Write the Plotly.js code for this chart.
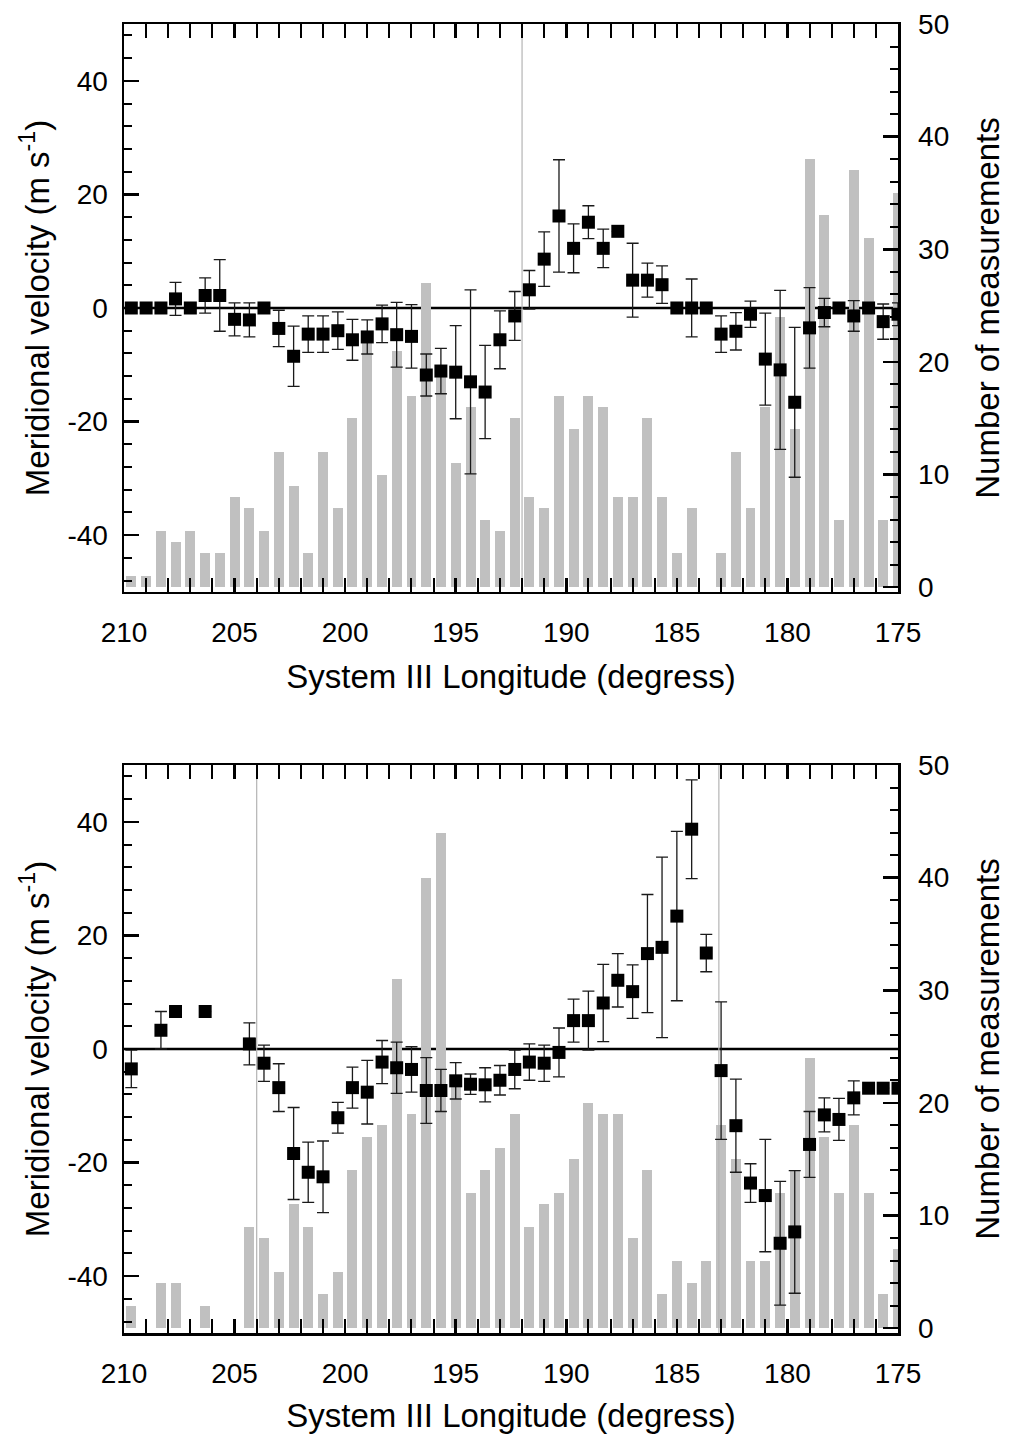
<!DOCTYPE html>
<html>
<head>
<meta charset="utf-8">
<script src="https://cdn.plot.ly/plotly-3.0.1.min.js"></script>
<style>
  html, body { margin: 0; padding: 0; background: #fff; }
  #chart { width: 1009px; height: 1434px; }
</style>
</head>
<body>
<div id="chart"></div>
<script>
// ---------- data ----------
const longitude = [209.67, 209.00, 208.33, 207.67, 207.00, 206.33, 205.67, 205.00, 204.33, 203.67,
                   203.00, 202.33, 201.67, 201.00, 200.33, 199.67, 199.00, 198.33, 197.67, 197.00,
                   196.33, 195.67, 195.00, 194.33, 193.67, 193.00, 192.33, 191.67, 191.00, 190.33,
                   189.67, 189.00, 188.33, 187.67, 187.00, 186.33, 185.67, 185.00, 184.33, 183.67,
                   183.00, 182.33, 181.67, 181.00, 180.33, 179.67, 179.00, 178.33, 177.67, 177.00,
                   176.33, 175.67, 175.00];

// Panel 1 (top)
const velocity1 = [0, 0, 0, 1.6, 0, 2.2, 2.2, -2.0, -2.1, 0,
                   -3.6, -8.5, -4.6, -4.6, -4.0, -5.6, -5.1, -2.8, -4.7, -5.0,
                   -11.8, -11.1, -11.3, -13.0, -14.8, -5.6, -1.4, 3.2, 8.6, 16.2,
                   10.5, 15.1, 10.5, 13.5, 4.9, 4.9, 4.1, 0, 0, 0,
                   -4.6, -4.1, -1.1, -9.0, -10.9, -16.6, -3.5, -0.8, 0, -1.4,
                   0, -2.4, -1.1];
const error1 = [null, null, null, 2.9, null, 3.1, 6.3, 2.9, 3.0, null,
                3.2, 5.3, 3.2, 3.2, 3.3, 3.6, 3.0, 3.3, 5.7, 5.6,
                3.7, 4.0, 8.2, 16.2, 8.2, 5.1, 4.3, 3.4, 4.8, 9.9,
                4.3, 2.9, 3.4, null, 6.5, 3.0, 3.3, null, 5.1, null,
                3.2, 3.3, 2.3, 8.1, 14.0, 13.2, 7.1, 2.5, null, 2.7,
                null, 3.1, 2.0];
const count1 = [1, 1, 5, 4, 5, 3, 3, 8, 7, 5,
                12, 9, 3, 12, 7, 15, 22, 10, 21, 17,
                27, 19, 11, 16, 6, 5, 15, 8, 7, 17,
                14, 17, 16, 8, 8, 15, 8, 3, 7, 0,
                3, 12, 7, 16, 24, 14, 38, 33, 6, 37,
                31, 6, 35];
const refLines1 = [192];

// Panel 2 (bottom)
const velocity2 = [-3.5, null, 3.3, 6.6, null, 6.6, null, null, 0.9, -2.5,
                   -6.8, -18.4, -21.7, -22.5, -12.1, -6.8, -7.6, -2.3, -3.3, -3.6,
                   -7.3, -7.3, -5.6, -6.2, -6.3, -5.5, -3.6, -2.3, -2.5, -0.6,
                   5.0, 5.0, 8.1, 12.1, 10.1, 16.8, 17.9, 23.4, 38.7, 16.9,
                   -3.8, -13.5, -23.6, -25.8, -34.2, -32.2, -16.8, -11.6, -12.4, -8.6,
                   -6.9, -6.9, -6.9];
const error2 = [3.3, null, 3.3, null, null, null, null, null, 3.7, 3.2,
                4.2, 8.1, 5.3, 6.3, 2.7, 3.6, 5.6, 3.8, 4.5, 4.0,
                5.8, 3.7, 3.2, 1.8, 3.0, 2.6, 3.4, 3.2, 3.2, 4.3,
                3.8, 5.2, 6.8, 4.7, 4.7, 10.4, 15.9, 14.9, 8.7, 3.3,
                12.1, 8.2, 3.4, 9.9, 10.9, 10.8, 5.8, 3.0, 3.7, 3.0,
                null, null, null];
const count2 = [2, 0, 4, 4, 0, 2, 0, 0, 9, 8,
                5, 11, 9, 3, 5, 14, 17, 18, 31, 19,
                40, 44, 22, 12, 14, 16, 19, 9, 11, 12,
                15, 20, 19, 19, 8, 14, 3, 6, 4, 6,
                18, 15, 6, 6, 12, 14, 24, 17, 12, 18,
                12, 3, 7];
const refLines2 = [204, 183.1];

// axis ticks / labels
const xTickVals = [210, 205, 200, 195, 190, 185, 180, 175];
const xTickText = ['210', '205', '200', '195', '190', '185', '180', '175'];
const velTickVals = [-40, -20, 0, 20, 40];
const velTickText = ['-40', '-20', '0', '20', '40'];
const cntTickVals = [0, 10, 20, 30, 40, 50];
const cntTickText = ['0', '10', '20', '30', '40', '50'];
const xRange = [210, 175];
const velRange = [-50, 50];
const cntRange = [-0.43, 50];

// ---------- styling ----------
const FONT = 'Liberation Sans, Arial, Helvetica, sans-serif';
const TICKFONT = {family: FONT, size: 28, color: '#000'};
const TITLEFONT = {family: FONT, size: 33, color: '#000'};
const BAR_COLOR = '#c0c0c0';

function barTrace(y, xa, ya) {
  return {type: 'bar', x: longitude, y: y, xaxis: xa, yaxis: ya, width: 0.45,
          marker: {color: BAR_COLOR, line: {width: 0}}, hoverinfo: 'skip', showlegend: false};
}
function refLineTraces(vals, xa, ya) {
  return vals.map(v => ({type: 'scatter', mode: 'lines', x: [v, v], y: velRange,
          xaxis: xa, yaxis: ya, line: {color: '#b4b4b4', width: 1.2},
          hoverinfo: 'skip', showlegend: false}));
}
function pointTrace(y, err, xa, ya) {
  return {type: 'scatter', mode: 'markers', x: longitude, y: y, xaxis: xa, yaxis: ya,
          marker: {symbol: 'square', size: 13, color: '#000'},
          error_y: {type: 'data', array: err, symmetric: true, visible: true,
                    color: '#1a1a1a', thickness: 1.3, width: 6},
          showlegend: false};
}

const traces = [
  barTrace(count1, 'x', 'y'),
  ...refLineTraces(refLines1, 'x', 'y2'),
  pointTrace(velocity1, error1, 'x', 'y2'),
  barTrace(count2, 'x2', 'y3'),
  ...refLineTraces(refLines2, 'x2', 'y4'),
  pointTrace(velocity2, error2, 'x2', 'y4')
];

function xAxis(anchor) {
  return {
    anchor: anchor, domain: [0, 1], range: xRange, autorange: false,
    tickmode: 'array', tickvals: xTickVals, ticktext: xTickText,
    ticks: 'inside', ticklen: 14, tickwidth: 2.5, tickcolor: '#000',
    minor: {tickmode: 'linear', tick0: 0, dtick: 1, ticks: 'inside', ticklen: 7, tickwidth: 2, tickcolor: '#000', showgrid: false},
    mirror: 'allticks', showline: true, linewidth: 2.5, linecolor: '#000',
    showgrid: false, zeroline: false, tickfont: TICKFONT, ticklabelstandoff: 14,
    title: {text: 'System III Longitude (degress)', font: TITLEFONT, standoff: 18}
  };
}
function cntAxis(anchor, domain) {
  return {
    anchor: anchor, domain: domain, side: 'right', range: cntRange, autorange: false,
    tickmode: 'array', tickvals: cntTickVals, ticktext: cntTickText,
    ticks: 'inside', ticklen: 15, tickwidth: 2.5, tickcolor: '#000',
    minor: {tickmode: 'linear', tick0: 0, dtick: 2, ticks: 'inside', ticklen: 8, tickwidth: 2, tickcolor: '#000', showgrid: false},
    showline: true, linewidth: 2.5, linecolor: '#000', mirror: false,
    showgrid: false, zeroline: false, tickfont: TICKFONT, ticklabelstandoff: 12,
    title: {text: 'Number of measurements', font: TITLEFONT, standoff: 28}
  };
}
function velAxis(anchor, base) {
  return {
    anchor: anchor, overlaying: base, side: 'left', range: velRange, autorange: false,
    tickmode: 'array', tickvals: velTickVals, ticktext: velTickText,
    ticks: 'inside', ticklen: 15, tickwidth: 2.5, tickcolor: '#000',
    minor: {tickmode: 'linear', tick0: 0, dtick: 4, ticks: 'inside', ticklen: 8, tickwidth: 2, tickcolor: '#000', showgrid: false},
    showline: true, linewidth: 2.5, linecolor: '#000', mirror: false,
    showgrid: false, zeroline: false, tickfont: TICKFONT, ticklabelstandoff: 8,
    title: {text: 'Meridional velocity (m s<sup>-1</sup>)', font: TITLEFONT, standoff: 8}
  };
}

const layout = {
  width: 1009, height: 1434,
  margin: {l: 124, r: 111, t: 24, b: 101},
  paper_bgcolor: '#fff', plot_bgcolor: 'rgba(0,0,0,0)',
  font: {family: FONT, color: '#000'},
  showlegend: false, bargap: 0,
  xaxis: xAxis('y'),
  xaxis2: xAxis('y3'),
  yaxis: cntAxis('x', [0.5661, 1]),
  yaxis2: velAxis('x', 'y'),
  yaxis3: cntAxis('x2', [0, 0.4339]),
  yaxis4: velAxis('x2', 'y3'),
  shapes: [
    {type: 'line', xref: 'x', yref: 'y2', x0: xRange[0], x1: xRange[1], y0: 0, y1: 0,
     line: {color: '#000', width: 2.5}, layer: 'below'},
    {type: 'line', xref: 'x2', yref: 'y4', x0: xRange[0], x1: xRange[1], y0: 0, y1: 0,
     line: {color: '#000', width: 2.5}, layer: 'below'}
  ]
};

Plotly.newPlot('chart', traces, layout, {displayModeBar: false, staticPlot: true});
</script>
</body>
</html>
